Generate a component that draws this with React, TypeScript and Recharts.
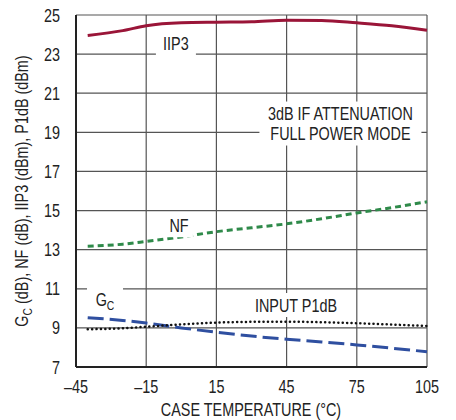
import React from "react";
import {
  LineChart,
  Line,
  XAxis,
  YAxis,
  CartesianGrid,
  ReferenceDot,
} from "recharts";

const temps = [-40, -25, -15, 0, 15, 30, 45, 60, 75, 90, 105];
const iip3 = [23.95, 24.2, 24.45, 24.6, 24.63, 24.65, 24.73, 24.72, 24.6, 24.45, 24.22];
const nf = [13.18, 13.28, 13.42, 13.65, 13.92, 14.12, 14.32, 14.58, 14.88, 15.15, 15.45];
const gc = [9.52, 9.38, 9.25, 9.0, 8.78, 8.58, 8.42, 8.28, 8.13, 7.96, 7.78];
const p1db = [8.93, 8.98, 9.06, 9.18, 9.27, 9.31, 9.32, 9.29, 9.24, 9.17, 9.1];

const xTicks = [-45, -15, 15, 45, 75, 105];
const yTicks = [7, 9, 11, 13, 15, 17, 19, 21, 23, 25];

const data = temps.map((t, i) => ({
  t,
  iip3: iip3[i],
  nf: nf[i],
  gc: gc[i],
  p1db: p1db[i],
}));

const FONT = "'Liberation Sans', Arial, sans-serif";
const TEXT = "#222";
const SQ = 0.8; // horizontal squeeze to mimic the narrow font

// condensed text drawn at (x, y)
function CText({ x, y, anchor = "middle", size = 18, children }: any) {
  return (
    <g transform={`translate(${x},${y}) scale(${SQ},1)`}>
      <text x={0} y={0} textAnchor={anchor} fontFamily={FONT} fontSize={size} fill={TEXT}>
        {children}
      </text>
    </g>
  );
}

function XTick({ x, y, payload }: any) {
  const v = payload.value;
  return (
    <CText x={x} y={y + 18}>
      {v < 0 ? `\u2013${-v}` : `${v}`}
    </CText>
  );
}

function YTick({ x, y, payload }: any) {
  return (
    <CText x={x} y={y + 6.5} anchor="end">
      {payload.value}
    </CText>
  );
}

// white-backed text label placed at a data point
function boxLabel(lines: string[], w: number, sub?: boolean) {
  return (p: any) => {
    const { cx, cy } = p;
    const h = lines.length * 20 + 4;
    return (
      <g>
        <rect x={cx - w / 2} y={cy - h / 2} width={w} height={h} fill="#fff" />
        {lines.map((s, i) => (
          <CText key={i} x={cx} y={cy - h / 2 + 18.5 + i * 20}>
            {sub ? (
              <>
                G<tspan fontSize={13} dy={4}>C</tspan>
              </>
            ) : (
              s
            )}
          </CText>
        ))}
      </g>
    );
  };
}

function YLabel() {
  return (
    <g transform="translate(28,191) rotate(-90) scale(0.8,1)">
      <text x={0} y={0} textAnchor="middle" fontFamily={FONT} fontSize={18} fill={TEXT}>
        G<tspan fontSize={13} dy={4}>C</tspan>
        <tspan dy={-4}> (dB), NF (dB), IIP3 (dBm), P1dB (dBm)</tspan>
      </text>
    </g>
  );
}

function XLabel() {
  return (
    <CText x={251} y={416}>
      CASE TEMPERATURE (°C)
    </CText>
  );
}

export default function App() {
  return (
    <div style={{ width: 456, height: 420, background: "#fff" }}>
      <style>{`body{margin:0}`}</style>
      <LineChart
        width={456}
        height={420}
        data={data}
        margin={{ top: 15, right: 29, bottom: 23, left: 0 }}
      >
        <CartesianGrid stroke="#555" strokeWidth={1.2} />
        <XAxis
          dataKey="t"
          type="number"
          domain={[-45, 105]}
          ticks={xTicks}
          tickLine={false}
          axisLine={{ stroke: "#222", strokeWidth: 2 }}
          tick={<XTick />}
          height={30}
          label={<XLabel />}
        />
        <YAxis
          type="number"
          domain={[7, 25]}
          ticks={yTicks}
          width={76}
          tickLine={false}
          axisLine={{ stroke: "#222", strokeWidth: 2 }}
          tick={<YTick />}
          tickMargin={10}
          label={<YLabel />}
        />
        <ReferenceDot x={-2.3} y={23.55} r={0} shape={boxLabel(["IIP3"], 40)} />
        <ReferenceDot
          x={68}
          y={19.45}
          r={0}
          shape={boxLabel(["3dB IF ATTENUATION", "FULL POWER MODE"], 162)}
        />
        <ReferenceDot x={-1} y={14.25} r={0} shape={boxLabel(["NF"], 28)} />
        <ReferenceDot x={-32.6} y={10.45} r={0} shape={boxLabel(["GC"], 36, true)} />
        <ReferenceDot x={49} y={10.17} r={0} shape={boxLabel(["INPUT P1dB"], 92)} />
        <Line
          type="monotone"
          dataKey="iip3"
          stroke="#9a1538"
          strokeWidth={3}
          dot={false}
          isAnimationActive={false}
        />
        <Line
          type="monotone"
          dataKey="nf"
          stroke="#2f8a4a"
          strokeWidth={3}
          strokeDasharray="6 4"
          dot={false}
          isAnimationActive={false}
        />
        <Line
          type="monotone"
          dataKey="gc"
          stroke="#2f4fa0"
          strokeWidth={3}
          strokeDasharray="16 6"
          dot={false}
          isAnimationActive={false}
        />
        <Line
          type="monotone"
          dataKey="p1db"
          stroke="#111"
          strokeWidth={2.5}
          strokeDasharray="0.1 4.3"
          strokeLinecap="round"
          dot={false}
          isAnimationActive={false}
        />
      </LineChart>
    </div>
  );
}
